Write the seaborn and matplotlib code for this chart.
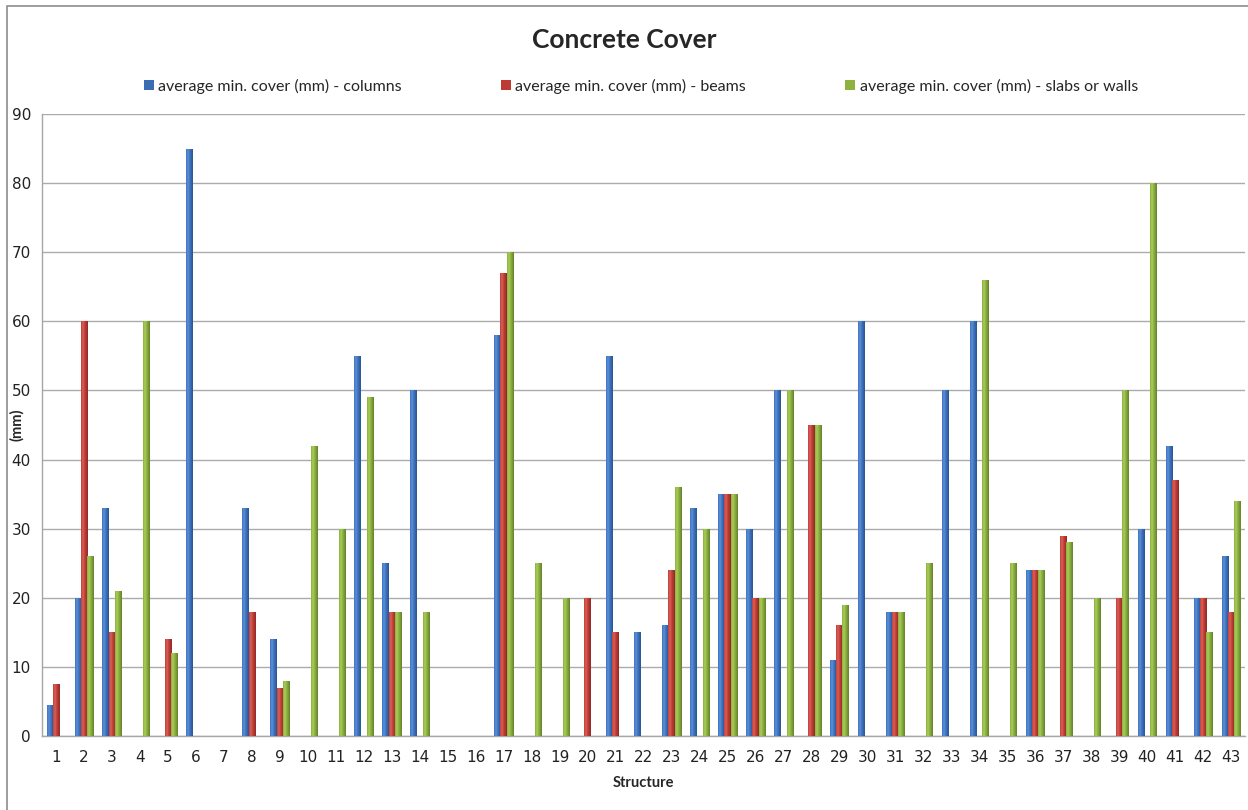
import numpy as np
import pandas as pd
import seaborn as sns
import matplotlib.pyplot as plt
from matplotlib.patches import Rectangle
from matplotlib.colors import LinearSegmentedColormap, to_rgb

nan = np.nan

structures = [str(i) for i in range(1, 44)]

columns = [4.5, 20, 33, nan, nan, 85, nan, 33, 14, nan,
           nan, 55, 25, 50, nan, nan, 58, nan, nan, nan,
           55, 15, 16, 33, 35, 30, 50, nan, 11, 60,
           18, nan, 50, 60, nan, 24, nan, nan, nan, 30,
           42, 20, 26]

beams = [7.5, 60, 15, nan, 14, nan, nan, 18, 7, nan,
         nan, nan, 18, nan, nan, nan, 67, nan, nan, 20,
         15, nan, 24, nan, 35, 20, nan, 45, 16, nan,
         18, nan, nan, nan, nan, 24, 29, nan, 20, nan,
         37, 20, 18]

slabs = [nan, 26, 21, 60, 12, nan, nan, nan, 8, 42,
         30, 49, 18, 18, nan, nan, 70, 25, 20, nan,
         nan, nan, 36, 30, 35, 20, 50, 45, 19, nan,
         18, 25, nan, 66, 25, 24, 28, 20, 50, 80,
         nan, 15, 34]

series_names = ["average min. cover (mm) - columns",
                "average min. cover (mm) - beams",
                "average min. cover (mm) - slabs or walls"]
series_colors = ["#3B6DB5", "#BE3B35", "#8DB23F"]
# light / mid / dark tones used for the cylinder-like shading
shade_stops = {
    "#3B6DB5": ["#5C8FD6", "#3E74C0", "#2B5591"],
    "#BE3B35": ["#D9615B", "#C23E38", "#8E2A26"],
    "#8DB23F": ["#A9CB5C", "#8DB23F", "#64812B"],
}

df = pd.DataFrame({
    "Structure": structures * 3,
    "series": np.repeat(series_names, len(structures)),
    "value": columns + beams + slabs,
})

sns.set_theme(style="white")
plt.rcParams["font.family"] = ["DejaVu Sans"]

fig = plt.figure(figsize=(12.48, 8.10), dpi=100)
ax = fig.add_axes([42 / 1248, 1 - 736 / 810, (1245 - 42) / 1248, (736 - 114) / 810])

sns.barplot(data=df, x="Structure", y="value", hue="series",
            order=structures, hue_order=series_names,
            palette=series_colors, saturation=1, width=0.675,
            errorbar=None, ax=ax, legend=False, zorder=3)

ax.set_ylim(0, 90)
ax.set_xlim(-0.5, len(structures) - 0.5)

# horizontal gradient inside every bar
grad = np.linspace(0, 1, 64).reshape(1, -1)
for patch in list(ax.patches):
    h = patch.get_height()
    if not np.isfinite(h) or h <= 0:
        continue
    fc = patch.get_facecolor()
    key = min(shade_stops, key=lambda c: sum((a - b) ** 2 for a, b in zip(to_rgb(c), fc[:3])))
    light, mid, dark = shade_stops[key]
    cmap = LinearSegmentedColormap.from_list("bar", [(0, mid), (0.3, light), (0.55, mid), (1, dark)])
    x0 = patch.get_x()
    w = patch.get_width()
    im = ax.imshow(grad, extent=[x0, x0 + w, 0, h], cmap=cmap, aspect="auto",
                   zorder=3.5, interpolation="bilinear")
    im.set_clip_path(patch)
    patch.set_edgecolor("none")

ax.set_ylim(0, 90)
ax.set_xlim(-0.5, len(structures) - 0.5)
ax.set_yticks(range(0, 91, 10))
ax.yaxis.grid(True, color="#ababab", linewidth=1, zorder=0)
ax.xaxis.grid(False)
ax.set_axisbelow(True)

for side in ["top", "right"]:
    ax.spines[side].set_visible(False)
for side in ["left", "bottom"]:
    ax.spines[side].set_color("#a6a6a6")
    ax.spines[side].set_linewidth(1)

ax.tick_params(axis="both", length=0, labelsize=11, colors="#222222")
ax.tick_params(axis="x", pad=10)
ax.tick_params(axis="y", pad=8)

ax.set_xlabel("Structure", fontsize=10.5, fontweight="bold", family="Lato", labelpad=8)
ax.set_ylabel("")
fig.text(17 / 1248, 1 - 425 / 810, "(mm)", rotation=90, ha="center", va="center",
         fontsize=10.5, fontweight="bold", family="Lato")

fig.text(0.5, 1 - 40 / 810, "Concrete Cover", ha="center", va="center",
         fontsize=19, fontweight="bold", family="Lato")

handles = [Rectangle((0, 0), 1, 1, facecolor=c, edgecolor="none") for c in series_colors]
fig.legend(handles, series_names, loc="center", bbox_to_anchor=(0.5135, 1 - 86 / 810),
           ncol=3, frameon=False, prop={"family": "Lato", "size": 11.5},
           handlelength=0.6, handleheight=0.6, handletextpad=0.3,
           columnspacing=6.2)

# outer chart frame
fig.patches.append(Rectangle((7 / 1248, -0.02), 1.05, 1 - 6 / 810 + 0.02,
                             transform=fig.transFigure, fill=False,
                             edgecolor="#8c8c8c", linewidth=1.2))

fig.savefig("out.png", dpi=100, facecolor="white")
